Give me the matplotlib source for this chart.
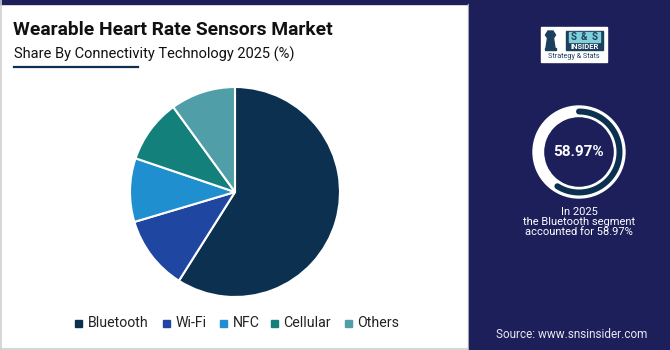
import numpy as np
import matplotlib
matplotlib.use("Agg")
import matplotlib.pyplot as plt
from matplotlib.patches import Rectangle, Wedge, Polygon

# ---- data ----
categories = ["Bluetooth", "Wi-Fi", "NFC", "Cellular", "Others"]
shares = [58.97, 11.43, 9.80, 9.80, 10.00]
colors = ["#0c3050", "#1f46a0", "#1f8fd0", "#13807c", "#4f9ea8"]
highlight_value = 58.97
highlight_year = "2025"
highlight_segment = "Bluetooth"

title = "Wearable Heart Rate Sensors Market"
subtitle = "Share By Connectivity Technology 2025 (%)"
source = "Source: www.snsinsider.com"

W, H = 670, 350
fig = plt.figure(figsize=(W / 100, H / 100), dpi=100)
bg = fig.add_axes([0, 0, 1, 1])
bg.set_xlim(0, W)
bg.set_ylim(0, H)
bg.axis("off")

def Y(y):
    return H - y

navy_panel = "#1d1f5b"
# white area + borders
bg.add_patch(Rectangle((0, 0), W, H, color="white", zorder=0))
bg.add_patch(Rectangle((0, Y(4)), 469, 4, color=navy_panel, zorder=1))
bg.plot([0.5, 0.5], [0, H], color="#cfcfcf", lw=1.2, zorder=1)
bg.plot([467.5, 467.5], [0, Y(4)], color="#c8c8d0", lw=1.0, zorder=1)
bg.plot([0, 469], [Y(348.5), Y(348.5)], color="#cfcfcf", lw=1.2, zorder=1)
# right panel
bg.add_patch(Rectangle((469, 0), W - 469, H, color=navy_panel, zorder=1))

# titles
bg.text(13, Y(30), title, fontsize=13.9, fontweight="bold", family="Roboto",
        color="#111111", va="center", ha="left", zorder=3)
bg.text(14, Y(54), subtitle, fontsize=10.5, family="Roboto",
        color="#111111", va="center", ha="left", zorder=3)
bg.plot([14, 138], [Y(67), Y(67)], color="#0c3050", lw=1.6, zorder=3)

# ---- pie ----
cx, cy, r = 235, 192, 105
pax = fig.add_axes([(cx - r) / W, (H - cy - r) / H, 2 * r / W, 2 * r / H])
pax.pie(shares, colors=colors, startangle=90, counterclock=False,
        wedgeprops=dict(edgecolor="white", linewidth=1.5), radius=1.0)
pax.set_xlim(-1.0, 1.0)
pax.set_ylim(-1.0, 1.0)
pax.set_aspect("equal")
pax.axis("off")

# legend
lx = [78, 166, 223, 274, 348]
for x, c, name in zip(lx, colors, categories):
    bg.add_patch(Rectangle((x - 3.5, Y(323.5) - 3.5), 7, 7, color=c, zorder=3))
    bg.text(x + 9.5, Y(323), name, fontsize=10.2, family="Roboto", color="#222222",
            va="center", ha="left", zorder=3)

# ---- right panel: logo ----
bg.add_patch(Rectangle((541, Y(62)), 66, 35, color="white", zorder=3))
# tower icon
tower = Polygon([(546, Y(48)), (547.5, Y(38)), (545.5, Y(35)), (548, Y(31)),
                 (553, Y(31)), (555.5, Y(35)), (553.5, Y(38)), (555, Y(48))],
                closed=True, color="#1d3f5e", zorder=4)
bg.add_patch(tower)
bg.add_patch(Rectangle((545, Y(50)), 11, 2, color="#1d3f5e", zorder=4))
bg.add_patch(Rectangle((566, Y(50)), 37, 19, color="#1d3f5e", zorder=4))
for bx, ch in zip([569, 579.5, 590], ["S", "&", "S"]):
    bg.add_patch(Rectangle((bx, Y(42)), 9.5, 10, color="#7fd0d8", zorder=5))
    bg.text(bx + 4.75, Y(37), ch, fontsize=7, fontweight="bold", color="#1d3f5e",
            ha="center", va="center", family="Roboto", zorder=6)
bg.text(584.5, Y(46.5), "INSIDER", fontsize=5.5, fontweight="bold", color="white",
        ha="center", va="center", family="Roboto", zorder=6)
bg.text(574, Y(56.5), "Strategy & Stats", fontsize=5.2, color="#1d3f5e",
        ha="center", va="center", family="Roboto", zorder=6)

# ---- right panel: ring ----
rcx, rcy = 579, 152
bg.add_patch(Wedge((rcx, Y(rcy)), 46, 0, 360, width=10.5, color="white", zorder=3))
theta = np.radians(np.linspace(90, 90 - 360 * highlight_value / 100, 200))
rr = 40.5
bg.plot(rcx + rr * np.cos(theta), Y(rcy) + rr * np.sin(theta), color="#0c3050",
        lw=4.3, solid_capstyle="round", zorder=4)
bg.text(rcx, Y(rcy), f"{highlight_value:.2f}%", fontsize=11, fontweight="bold",
        color="white", ha="center", va="center", family="Roboto", zorder=5)
bg.text(rcx, Y(222), f"In {highlight_year}\nthe {highlight_segment} segment\naccounted for {highlight_value:.2f}%",
        fontsize=8, color="white", ha="center", va="center", family="Roboto",
        linespacing=1.05, zorder=5)

bg.text(496, Y(335), source, fontsize=8.5, color="#e8e8f0", ha="left",
        va="center", family="Roboto", zorder=5)

fig.savefig("out.png", dpi=100)
